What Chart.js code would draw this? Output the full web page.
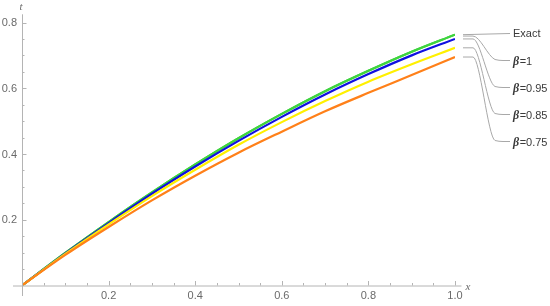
<!DOCTYPE html>
<html>
<head>
<meta charset="utf-8">
<script src="https://cdn.jsdelivr.net/npm/chart.js@4.4.1/dist/chart.umd.min.js"></script>
<style>
  html, body { margin: 0; padding: 0; background: #fff; }
  #wrap { width: 550px; height: 306px; position: relative; }
</style>
</head>
<body>
<div id="wrap"><canvas id="c" width="550" height="306"></canvas></div>
<script>
// ---- data ----
const xValues = [0, 0.1, 0.2, 0.3, 0.4, 0.5, 0.6, 0.7, 0.8, 0.9, 1.0];
const exactValues = [0, 0.099, 0.193, 0.283, 0.368, 0.448, 0.522, 0.591, 0.653, 0.711, 0.763];
const beta1Values = [0, 0.099, 0.193, 0.283, 0.368, 0.448, 0.522, 0.591, 0.653, 0.711, 0.763];
const beta095Values = [0, 0.098, 0.190, 0.279, 0.362, 0.440, 0.513, 0.581, 0.643, 0.700, 0.750];
const beta085Values = [0, 0.096, 0.186, 0.272, 0.352, 0.428, 0.497, 0.561, 0.620, 0.673, 0.723];
const beta075Values = [0, 0.093, 0.178, 0.259, 0.334, 0.404, 0.468, 0.530, 0.586, 0.640, 0.695];
const seriesLabels = ["Exact", "β=1", "β=0.95", "β=0.85", "β=0.75"];
const xTickLabels = [0.2, 0.4, 0.6, 0.8, 1.0];
const yTickLabels = [0.2, 0.4, 0.6, 0.8];
const xMinorTicks = [0.05,0.1,0.15,0.25,0.3,0.35,0.45,0.5,0.55,0.65,0.7,0.75,0.85,0.9,0.95];
const yMinorTicks = [0.05,0.1,0.15,0.25,0.3,0.35,0.45,0.5,0.55,0.65,0.7,0.75];

const colors = ["#3fd43f", "#3fd43f", "#1010e0", "#fff000", "#ff8019"];
const allSeries = [exactValues, beta1Values, beta095Values, beta085Values, beta075Values];

const datasets = allSeries.map((vals, i) => ({
  label: seriesLabels[i],
  data: xValues.map((x, j) => ({ x: x, y: vals[j] })),
  borderColor: colors[i],
  borderWidth: 2.2,
  pointRadius: 0,
  fill: false,
  tension: 0.4,
  cubicInterpolationMode: 'monotone',
  order: 5 - i
}));

const axisPlugin = {
  id: 'mathAxes',
  afterDatasetsDraw(chart) {
    const ctx = chart.ctx;
    const xs = chart.scales.x, ys = chart.scales.y;
    const x0 = xs.getPixelForValue(0), y0 = ys.getPixelForValue(0);
    ctx.save();
    ctx.strokeStyle = '#b4b4b4';
    ctx.lineWidth = 1;
    // axes
    ctx.beginPath();
    ctx.moveTo(13, y0 + 0.5); ctx.lineTo(xs.getPixelForValue(1.015), y0 + 0.5);
    ctx.moveTo(x0 + 0.5, ys.getPixelForValue(0.825)); ctx.lineTo(x0 + 0.5, 296);
    ctx.stroke();
    // ticks
    ctx.beginPath();
    xTickLabels.forEach(v => { const p = Math.round(xs.getPixelForValue(v)) + 0.5; ctx.moveTo(p, y0); ctx.lineTo(p, y0 - 4.5); });
    xMinorTicks.forEach(v => { const p = Math.round(xs.getPixelForValue(v)) + 0.5; ctx.moveTo(p, y0); ctx.lineTo(p, y0 - 2.5); });
    yTickLabels.forEach(v => { const p = Math.round(ys.getPixelForValue(v)) + 0.5; ctx.moveTo(x0, p); ctx.lineTo(x0 + 4.5, p); });
    yMinorTicks.forEach(v => { const p = Math.round(ys.getPixelForValue(v)) + 0.5; ctx.moveTo(x0, p); ctx.lineTo(x0 + 2.5, p); });
    ctx.stroke();
    // tick labels
    ctx.fillStyle = '#6a6a6a';
    ctx.font = '11px "Liberation Sans", Arial, sans-serif';
    ctx.textAlign = 'center'; ctx.textBaseline = 'top';
    xTickLabels.forEach(v => ctx.fillText(v.toFixed(1), xs.getPixelForValue(v), y0 + 5));
    ctx.textAlign = 'right'; ctx.textBaseline = 'middle';
    yTickLabels.forEach(v => ctx.fillText(v.toFixed(1), x0 - 5, ys.getPixelForValue(v) + 0.5));
    // axis titles
    ctx.font = 'italic 11px "Liberation Serif", "Times New Roman", serif';
    ctx.textAlign = 'center'; ctx.textBaseline = 'middle';
    ctx.fillText('t', x0 - 1, 7);
    ctx.fillText('x', xs.getPixelForValue(1.03), y0 + 2);
    // leader lines & labels
    const xEnd = xs.getPixelForValue(1) + 8;
    const labelYs = [33.5, 60.5, 87.5, 114.5, 141.5];
    ctx.strokeStyle = '#a8a8a8';
    ctx.lineWidth = 1;
    allSeries.forEach((vals, i) => {
      const ys0 = ys.getPixelForValue(vals[vals.length - 1]) + (i === 1 ? 1.4 : 0);
      const ly = labelYs[i];
      ctx.beginPath();
      ctx.moveTo(xEnd, ys0);
      if (i === 0) {
        ctx.lineTo(510, ly);
      } else {
        ctx.lineTo(473, ys0);
        ctx.bezierCurveTo(480, ys0, 488, ly - 4, 495, ly - 1);
        ctx.quadraticCurveTo(499, ly, 503, ly);
        ctx.lineTo(510, ly);
      }
      ctx.stroke();
    });
    ctx.fillStyle = '#3a3a3a';
    ctx.textAlign = 'left'; ctx.textBaseline = 'middle';
    labelYs.forEach((ly, i) => {
      const lab = seriesLabels[i];
      let xx = 513;
      if (lab.startsWith('β')) {
        ctx.font = 'italic bold 12px "Liberation Serif", "Times New Roman", serif';
        ctx.fillText('β', xx, ly + 1);
        xx += ctx.measureText('β').width + 0.5;
        ctx.font = '11px "Liberation Sans", Arial, sans-serif';
        ctx.fillText(lab.slice(1), xx, ly + 1);
      } else {
        ctx.font = '11px "Liberation Sans", Arial, sans-serif';
        ctx.fillText(lab, xx, ly);
      }
    });
    ctx.restore();
  }
};

new Chart(document.getElementById('c'), {
  type: 'line',
  data: { datasets: datasets },
  options: {
    responsive: false,
    animation: false,
    layout: { padding: { left: 22, right: 95, top: 22.5, bottom: 20.5 } },
    plugins: { legend: { display: false }, tooltip: { enabled: false } },
    scales: {
      x: { type: 'linear', min: 0, max: 1, display: false },
      y: { type: 'linear', min: 0, max: 0.8, display: false }
    }
  },
  plugins: [axisPlugin]
});
</script>
</body>
</html>
